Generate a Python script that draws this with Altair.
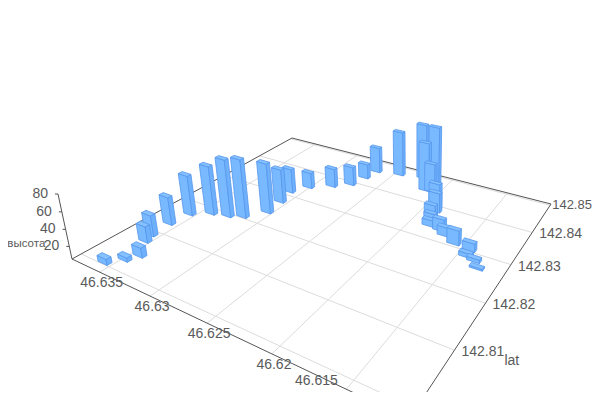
import numpy as np
import altair as alt

# ---- data ----
lon = [46.6357,46.6348,46.6343,46.6355,46.6358,46.6359,46.6356,46.6342,46.6328,46.6317,46.6305,46.6307,46.6311,46.6302,46.6286,46.6274,46.6270,46.6267,46.6246,46.6225,46.6209,46.6213,46.6208,46.6192,46.6190,46.6190,46.6187,46.6185,46.6175,46.6169,46.6158,46.6145,46.6144,46.6137,46.6132]
lat = [142.8005,142.8025,142.8043,142.8074,142.8091,142.8129,142.8167,142.8187,142.8195,142.8206,142.8238,142.8277,142.8314,142.8345,142.8370,142.8393,142.8429,142.8462,142.8473,142.8483,142.8465,142.8442,142.8444,142.8393,142.8384,142.8367,142.8353,142.8338,142.8334,142.8324,142.8310,142.8306,142.8288,142.8283,142.8268]
height = [12,10,17,25,31,40,56,67,78,79,69,49,37,26,30,30,25,40,66,80,86,70,43,38,30,20,15,13,20,16,23,15,10,9,7]
lon_ticks = [46.635,46.63,46.625,46.62]
lon_last = 46.615
lat_ticks = [142.81,142.82,142.83,142.84]
lat_last = 142.85
lat_grid = [142.80,142.81,142.82,142.83,142.84,142.85]
z_ticks = [20,40,60,80]
z_name, lat_name = "высота", "lat"

# ---- view: a perspective camera fitted to the box corners ----
LON0, LON1, LAT0, LAT1 = 46.638, 46.6113, 142.7985, 142.8505
ZMIN, ZMAX = 5.0, 80.0
corners = [(LON0,LAT0,72,259),(LON0,LAT1,292,138),(LON1,LAT1,551,204),(LON1,LAT0,409,419)]
A, b = [], []
for lo, la, x, y in corners:
    A.append([lo,la,1,0,0,0,-x*lo,-x*la]); b.append(x)
    A.append([0,0,0,lo,la,1,-y*lo,-y*la]); b.append(y)
h = np.linalg.solve(np.array(A), np.array(b, float))
H = np.array([[h[0],h[1],h[2]],[h[3],h[4],h[5]],[h[6],h[7],1.0]])
VP = np.array([415.0, 1850.0, 1.0])
w0 = (H @ np.array([LON0,LAT0,1.0]))[2]
K = w0*(194-259)/(1850-194)

def proj(lo, la, z=ZMIN):
    p = H @ np.array([lo,la,1.0]) + K*(z-ZMIN)/(ZMAX-ZMIN)*VP
    return [float(p[0]/p[2]), float(p[1]/p[2])]

def feat(kind, coords, **props):
    return {"type":"Feature","properties":props,"geometry":{"type":kind,"coordinates":coords}}

DLON, DLAT = 0.00048, 0.00042
FILL_F, FILL_R, FILL_T, EDGE = "#79b9ff", "#6fb0fb", "#86c1ff", "#5597ee"

def box(lo, la, z):
    a, c = lo+DLON, lo-DLON   # back / front in lon
    d, e = la-DLAT, la+DLAT   # front / back in lat
    ring = lambda pts: [pts + [pts[0]]]
    fs = []
    fs.append(feat("Polygon", ring([proj(a,d),proj(c,d),proj(c,d,z),proj(a,d,z)]), fill=FILL_F))
    fs.append(feat("Polygon", ring([proj(c,d),proj(c,e),proj(c,e,z),proj(c,d,z)]), fill=FILL_R))
    fs.append(feat("Polygon", ring([proj(a,d,z),proj(c,d,z),proj(c,e,z),proj(a,e,z)]), fill=FILL_T))
    return fs

order = sorted(range(len(lon)), key=lambda i: -abs((H @ np.array([lon[i],lat[i],1.0]))[2]))
bars = []
for i in order:
    bars += box(lon[i], lat[i], height[i])

grid = [feat("LineString",[proj(v,LAT0),proj(v,LAT1)]) for v in lon_ticks+[lon_last]]
grid += [feat("LineString",[proj(LON0,v),proj(LON1,v)]) for v in lat_grid]
axes = [feat("LineString",[proj(LON0,LAT0),proj(LON0,LAT1),proj(LON1,LAT1),proj(LON1,LAT0),proj(LON0,LAT0)]),
        feat("LineString",[proj(LON0,LAT0),proj(LON0,LAT0,ZMAX)])]
for t in z_ticks:
    p = proj(LON0,LAT0,t)
    axes.append(feat("LineString",[p,[p[0]-3,p[1]]]))

def rows(items):
    return [{"x":x,"y":y,"t":t} for x,y,t in items]
lon_lab = rows([(proj(v,LAT0)[0]+2, proj(v,LAT0)[1]+11, str(v)) for v in lon_ticks])
lon_lab += rows([(proj(lon_last,LAT0)[0]-30, proj(lon_last,LAT0)[1]-8, str(lon_last))])
lat_lab = rows([(proj(LON1,v)[0]+7, proj(LON1,v)[1]+2, str(v)) for v in lat_ticks])
lat_lab += rows([(proj(LON1,142.81)[0]+50, proj(LON1,142.81)[1]+11, lat_name)])
last_lab = rows([(proj(LON1,lat_last)[0]+2, proj(LON1,lat_last)[1], str(lat_last))])
z_lab = rows([(proj(LON0,LAT0,t)[0]-10, proj(LON0,LAT0,t)[1], str(t)) for t in z_ticks])
name_lab = rows([(proj(LON0,LAT0,20)[0]-24, proj(LON0,LAT0,20)[1]-2, z_name)])

def geo(fs):
    return alt.Data(values=fs, format=alt.DataFormat(type="json"))

gridL = alt.Chart(geo(grid)).mark_geoshape(filled=False, stroke="#dcdcdc", strokeWidth=1)
axisL = alt.Chart(geo(axes)).mark_geoshape(filled=False, stroke="#555555", strokeWidth=1)
barL = alt.Chart(geo(bars)).mark_geoshape(stroke=EDGE, strokeWidth=0.8, strokeJoin="round").encode(
    fill=alt.Fill("properties.fill:N", scale=None))

def text(data, align, size=14):
    return alt.Chart(alt.Data(values=data)).mark_text(
        align=align, baseline="middle", font="Liberation Sans", fontSize=size, color="#5a5a5a"
    ).encode(longitude="x:Q", latitude="y:Q", text="t:N")

chart = alt.layer(gridL, axisL, barL, text(lon_lab,"center"), text(lat_lab,"left"), text(last_lab,"left",13),
                  text(z_lab,"right"), text(name_lab,"right",11.5)).project(
    type="identity", scale=1, translate=[-8,-8]
).properties(width=584, height=384, padding=0, background="white",
             autosize=alt.AutoSizeParams(type="none")).configure_view(stroke=None)

chart.save("out.html", embed_options={"renderer": "svg", "actions": False})
